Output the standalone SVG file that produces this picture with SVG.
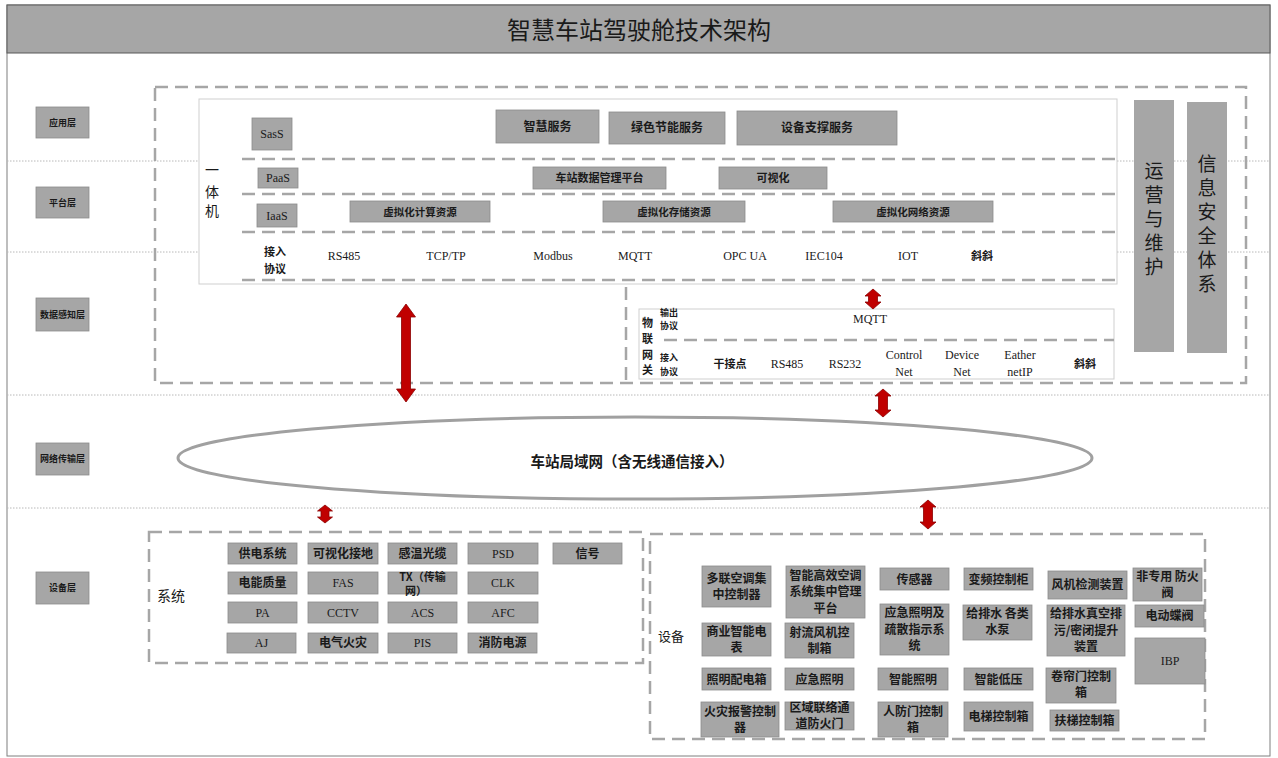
<svg xmlns="http://www.w3.org/2000/svg" width="1278" height="758" viewBox="0 0 1278 758">
<defs>
<style>
.bx{fill:#a6a6a6;stroke:#8c8c8c;stroke-width:0.8}
.col{fill:#a6a6a6;stroke:none}
.dash{fill:none;stroke:#a6a6a6;stroke-width:2.5;stroke-dasharray:13 7}
.dot{fill:none;stroke:#b8b8b8;stroke-width:1;stroke-dasharray:1.5 1.5}
.wbox{fill:#ffffff;stroke:#cfcfcf;stroke-width:1}
.t{font-family:"Noto Sans CJK SC","Liberation Sans",sans-serif;fill:#1a1a1a;text-anchor:middle}
.b{font-weight:bold}
.s9{font-size:9px}
.s10{font-size:10.5px}
.s11{font-size:11px}
.s12{font-size:12px}
.s13{font-size:13px}
.s14{font-size:14px}
.vt{writing-mode:vertical-rl;font-size:19px;letter-spacing:5px}
.lat{font-family:"Liberation Serif","Noto Sans CJK SC",serif;fill:#1a1a1a;text-anchor:middle;font-size:12px}
.arr{fill:#c00000;stroke:#8b0000;stroke-width:0.8}
</style>
</defs>
<rect x="0" y="0" width="1278" height="758" fill="#ffffff"/>
<g id="frame">
<rect x="7" y="5" width="1263" height="751" fill="none" stroke="#7f7f7f" stroke-width="1"/>
<rect x="7" y="5" width="1263" height="48" fill="#a6a6a6" stroke="#595959" stroke-width="1"/>
<text class="t" x="639" y="39" font-size="24">智慧车站驾驶舱技术架构</text>
<line class="dot" x1="7" y1="161" x2="1270" y2="161"/>
<line class="dot" x1="7" y1="252" x2="1270" y2="252"/>
<line class="dot" x1="7" y1="395" x2="1270" y2="395"/>
<line class="dot" x1="7" y1="508" x2="1270" y2="508"/>
</g>
<g id="layers">
<g id="layer-app"><rect class="bx" x="36" y="107" width="53" height="31"/><text class="t b s9" x="62.5" y="126">应用层</text></g>
<g id="layer-platform"><rect class="bx" x="36" y="187" width="53" height="31"/><text class="t b s9" x="62.5" y="206">平台层</text></g>
<g id="layer-data"><rect class="bx" x="36" y="298" width="53" height="33"/><text class="t b s9" x="62.5" y="318">数据感知层</text></g>
<g id="layer-net"><rect class="bx" x="36" y="443" width="53" height="32"/><text class="t b s9" x="62.5" y="462">网络传输层</text></g>
<g id="layer-dev"><rect class="bx" x="36" y="572" width="53" height="32"/><text class="t b s9" x="62.5" y="591">设备层</text></g>
</g>
<g id="upper-frame">
<rect class="dash" x="155" y="87" width="1091" height="296"/>
<line class="dash" x1="626" y1="287" x2="626" y2="383"/>
</g>
<g id="all-in-one">
<rect class="wbox" x="199" y="99" width="918" height="185"/>
<line class="dash" x1="242" y1="159" x2="1117" y2="159"/>
<line class="dash" x1="242" y1="194" x2="1117" y2="194"/>
<line class="dash" x1="242" y1="232" x2="1117" y2="232"/>
<line class="dash" x1="242" y1="280" x2="1117" y2="280"/>
<text class="t s14" x="212" y="175">一</text>
<text class="t s14" x="212" y="197">体</text>
<text class="t s14" x="212" y="216">机</text>
</g>
<g id="saas"><rect class="bx" x="252" y="118" width="40" height="32"/><text class="lat" x="272" y="138" font-size="13">SasS</text></g>
<g id="paas"><rect class="bx" x="258" y="168" width="40" height="20"/><text class="lat" x="278" y="182" font-size="13">PaaS</text></g>
<g id="iaas"><rect class="bx" x="257" y="204" width="40" height="23"/><text class="lat" x="277" y="220" font-size="13">IaaS</text></g>
<g id="svc-smart"><rect class="bx" x="496" y="110" width="103" height="33"/><text class="t b s12" x="547.5" y="131">智慧服务</text></g>
<g id="svc-green"><rect class="bx" x="609" y="112" width="116" height="32"/><text class="t b s12" x="667" y="132">绿色节能服务</text></g>
<g id="svc-equip"><rect class="bx" x="737" y="111" width="160" height="34"/><text class="t b s12" x="817" y="132">设备支撑服务</text></g>
<g id="plat-data"><rect class="bx" x="533" y="167" width="133" height="22"/><text class="t b s11" x="599.5" y="182">车站数据管理平台</text></g>
<g id="plat-vis"><rect class="bx" x="719" y="167" width="108" height="22"/><text class="t b s11" x="773" y="182">可视化</text></g>
<g id="iaas-compute"><rect class="bx" x="350" y="201" width="140" height="21"/><text class="t b s10" x="420" y="215.5">虚拟化计算资源</text></g>
<g id="iaas-storage"><rect class="bx" x="603" y="201" width="142" height="21"/><text class="t b s10" x="674" y="215.5">虚拟化存储资源</text></g>
<g id="iaas-network"><rect class="bx" x="833" y="201" width="160" height="21"/><text class="t b s10" x="913" y="215.5">虚拟化网络资源</text></g>
<g id="access-protocols">
<text class="t b s11" x="275" y="256">接入</text>
<text class="t b s11" x="275" y="273">协议</text>
<text class="lat" x="344" y="260">RS485</text>
<text class="lat" x="446" y="260">TCP/TP</text>
<text class="lat" x="553" y="260">Modbus</text>
<text class="lat" x="635" y="260">MQTT</text>
<text class="lat" x="745" y="260">OPC UA</text>
<text class="lat" x="824" y="260">IEC104</text>
<text class="lat" x="908" y="260">IOT</text>
<text class="t b s11" x="982" y="260">斜斜</text>
</g>
<g id="ops"><rect class="col" x="1134" y="100" width="40" height="252"/>
<text class="t vt" x="1154" y="221">运营与维护</text></g>
<g id="security"><rect class="col" x="1187" y="102" width="40" height="251"/>
<text class="t vt" x="1207" y="226">信息安全体系</text></g>
<g id="iot-gateway">
<rect class="wbox" x="639" y="309" width="475" height="70" stroke="#bfbfbf"/>
<line class="dash" x1="664" y1="340" x2="1114" y2="340"/>
<text class="t b s11" x="647.5" y="327">物</text>
<text class="t b s11" x="647.5" y="343">联</text>
<text class="t b s11" x="647.5" y="359">网</text>
<text class="t b s11" x="647.5" y="374">关</text>
<text class="t b s9" x="669" y="316">输出</text>
<text class="t b s9" x="669" y="329">协议</text>
<text class="t b s9" x="669" y="361">接入</text>
<text class="t b s9" x="669" y="375">协议</text>
<text class="lat" x="870" y="323">MQTT</text>
<text class="t b s11" x="730" y="368">干接点</text>
<text class="lat" x="787" y="368">RS485</text>
<text class="lat" x="845" y="368">RS232</text>
<text class="lat" x="904" y="359">Control</text><text class="lat" x="904" y="376">Net</text>
<text class="lat" x="962" y="359">Device</text><text class="lat" x="962" y="376">Net</text>
<text class="lat" x="1020" y="359">Eather</text><text class="lat" x="1020" y="376">netIP</text>
<text class="t b s11" x="1085" y="368">斜斜</text>
</g>
<g id="lan">
<ellipse cx="635" cy="458" rx="457" ry="41" fill="#ffffff" stroke="#a0a0a0" stroke-width="3"/>
<text class="t b" font-size="14.5" x="632" y="467">车站局域网（含无线通信接入）</text>
</g>
<g id="systems">
<rect class="dash" x="149" y="532" width="494" height="131"/>
<text class="t s14" x="171" y="601">系统</text>
<g id="s1"><rect class="bx" x="228" y="543" width="69" height="21"/><text class="t b s12" x="262.5" y="558">供电系统</text></g>
<g id="s2"><rect class="bx" x="308" y="543" width="70" height="21"/><text class="t b s12" x="343" y="558">可视化接地</text></g>
<g id="s3"><rect class="bx" x="388" y="543" width="69" height="21"/><text class="t b s12" x="422.5" y="558">感温光缆</text></g>
<g id="s4"><rect class="bx" x="468" y="543" width="70" height="21"/><text class="lat" x="503" y="558">PSD</text></g>
<g id="s5"><rect class="bx" x="553" y="543" width="69" height="21"/><text class="t b s12" x="587.5" y="558">信号</text></g>
<g id="s6"><rect class="bx" x="228" y="572" width="69" height="22"/><text class="t b s12" x="262.5" y="587">电能质量</text></g>
<g id="s7"><rect class="bx" x="308" y="572" width="70" height="22"/><text class="lat" x="343" y="587">FAS</text></g>
<g id="s8"><rect class="bx" x="388" y="572" width="69" height="22"/><text class="t b s11" x="422.5" y="581">TX（传输</text><text class="t b s11" x="416" y="595">网）</text></g>
<g id="s9"><rect class="bx" x="468" y="572" width="70" height="22"/><text class="lat" x="503" y="587">CLK</text></g>
<g id="s10"><rect class="bx" x="228" y="602" width="69" height="21"/><text class="lat" x="262.5" y="617">PA</text></g>
<g id="s11"><rect class="bx" x="308" y="602" width="70" height="21"/><text class="lat" x="343" y="617">CCTV</text></g>
<g id="s12"><rect class="bx" x="388" y="602" width="69" height="21"/><text class="lat" x="422.5" y="617">ACS</text></g>
<g id="s13"><rect class="bx" x="468" y="602" width="70" height="21"/><text class="lat" x="503" y="617">AFC</text></g>
<g id="s14"><rect class="bx" x="227" y="633" width="69" height="20"/><text class="lat" x="261.5" y="647">AJ</text></g>
<g id="s15"><rect class="bx" x="308" y="633" width="70" height="20"/><text class="t b s12" x="343" y="647">电气火灾</text></g>
<g id="s16"><rect class="bx" x="388" y="633" width="69" height="20"/><text class="lat" x="422.5" y="647">PIS</text></g>
<g id="s17"><rect class="bx" x="468" y="633" width="69" height="20"/><text class="t b s12" x="502.5" y="647">消防电源</text></g>
</g>
<g id="devices">
<rect class="dash" x="650" y="534" width="555" height="205"/>
<text class="t s13" x="671" y="641">设备</text>
<g id="d1"><rect class="bx" x="702" y="566" width="69" height="41"/><text class="t b s12" x="736.5" y="583">多联空调集</text><text class="t b s12" x="736.5" y="599">中控制器</text></g>
<g id="d2"><rect class="bx" x="786" y="566" width="79" height="52"/><text class="t b s12" x="825.5" y="580">智能高效空调</text><text class="t b s12" x="825.5" y="596">系统集中管理</text><text class="t b s12" x="825.5" y="613">平台</text></g>
<g id="d3"><rect class="bx" x="880" y="568" width="69" height="22"/><text class="t b s12" x="914.5" y="583.5">传感器</text></g>
<g id="d4"><rect class="bx" x="964" y="568" width="69" height="22"/><text class="t b s12" x="998.5" y="583.5">变频控制柜</text></g>
<g id="d5"><rect class="bx" x="1048" y="571" width="79" height="28"/><text class="t b s12" x="1087.5" y="589">风机检测装置</text></g>
<g id="d6"><rect class="bx" x="1133" y="568" width="69" height="33"/><text class="t b s12" x="1167.5" y="581">非专用 防火</text><text class="t b s12" x="1167.5" y="597">阀</text></g>
<g id="d7"><rect class="bx" x="1135" y="605" width="69" height="22"/><text class="t b s12" x="1169.5" y="620">电动蝶阀</text></g>
<g id="d8"><rect class="bx" x="1135" y="638" width="70" height="46"/><text class="lat" x="1170" y="665">IBP</text></g>
<g id="d9"><rect class="bx" x="702" y="623" width="69" height="33"/><text class="t b s12" x="736.5" y="636">商业智能电</text><text class="t b s12" x="736.5" y="652">表</text></g>
<g id="d10"><rect class="bx" x="785" y="623" width="69" height="35"/><text class="t b s12" x="819.5" y="637">射流风机控</text><text class="t b s12" x="819.5" y="653">制箱</text></g>
<g id="d11"><rect class="bx" x="880" y="604" width="69" height="51"/><text class="t b s12" x="914.5" y="617">应急照明及</text><text class="t b s12" x="914.5" y="634">疏散指示系</text><text class="t b s12" x="914.5" y="650">统</text></g>
<g id="d12"><rect class="bx" x="963" y="605" width="69" height="35"/><text class="t b s12" x="997.5" y="618">给排水 各类</text><text class="t b s12" x="997.5" y="634">水泵</text></g>
<g id="d13"><rect class="bx" x="1047" y="605" width="78" height="51"/><text class="t b s12" x="1086" y="618">给排水真空排</text><text class="t b s12" x="1086" y="635">污/密闭提升</text><text class="t b s12" x="1086" y="651">装置</text></g>
<g id="d14"><rect class="bx" x="702" y="668" width="69" height="22"/><text class="t b s12" x="736.5" y="683.5">照明配电箱</text></g>
<g id="d15"><rect class="bx" x="785" y="668" width="69" height="22"/><text class="t b s12" x="819.5" y="683.5">应急照明</text></g>
<g id="d16"><rect class="bx" x="878" y="668" width="70" height="22"/><text class="t b s12" x="913" y="683.5">智能照明</text></g>
<g id="d17"><rect class="bx" x="964" y="668" width="69" height="22"/><text class="t b s12" x="998.5" y="683.5">智能低压</text></g>
<g id="d18"><rect class="bx" x="1046" y="668" width="70" height="35"/><text class="t b s12" x="1081" y="681">卷帘门控制</text><text class="t b s12" x="1081" y="697">箱</text></g>
<g id="d19"><rect class="bx" x="701" y="702" width="78" height="35"/><text class="t b s12" x="740" y="716">火灾报警控制</text><text class="t b s12" x="740" y="732">器</text></g>
<g id="d20"><rect class="bx" x="785" y="702" width="69" height="28"/><text class="t b s12" x="819.5" y="712">区域联络通</text><text class="t b s12" x="819.5" y="728">道防火门</text></g>
<g id="d21"><rect class="bx" x="878" y="702" width="70" height="35"/><text class="t b s12" x="913" y="716">人防门控制</text><text class="t b s12" x="913" y="732">箱</text></g>
<g id="d22"><rect class="bx" x="964" y="702" width="69" height="29"/><text class="t b s12" x="998.5" y="721">电梯控制箱</text></g>
<g id="d23"><rect class="bx" x="1050" y="710" width="69" height="21"/><text class="t b s12" x="1084.5" y="725">扶梯控制箱</text></g>
</g>
<g id="connectors">
<path class="arr" d="M406,304 L415.5,317 L410.5,317 L410.5,389 L415.5,389 L406,402 L396.5,389 L401.5,389 L401.5,317 L396.5,317 Z"/>
<path class="arr" d="M873,289 L881,296 L877.5,296 L877.5,302 L881,302 L873,309 L865,302 L868.5,302 L868.5,296 L865,296 Z"/>
<path class="arr" d="M883,389 L891,396 L887.5,396 L887.5,410 L891,410 L883,417 L875,410 L878.5,410 L878.5,396 L875,396 Z"/>
<path class="arr" d="M325,505 L332.5,511 L329,511 L329,517 L332.5,517 L325,523 L317.5,517 L321,517 L321,511 L317.5,511 Z"/>
<path class="arr" d="M928,500 L936,507 L932.5,507 L932.5,522 L936,522 L928,529 L920,522 L923.5,522 L923.5,507 L920,507 Z"/>
</g>
</svg>
